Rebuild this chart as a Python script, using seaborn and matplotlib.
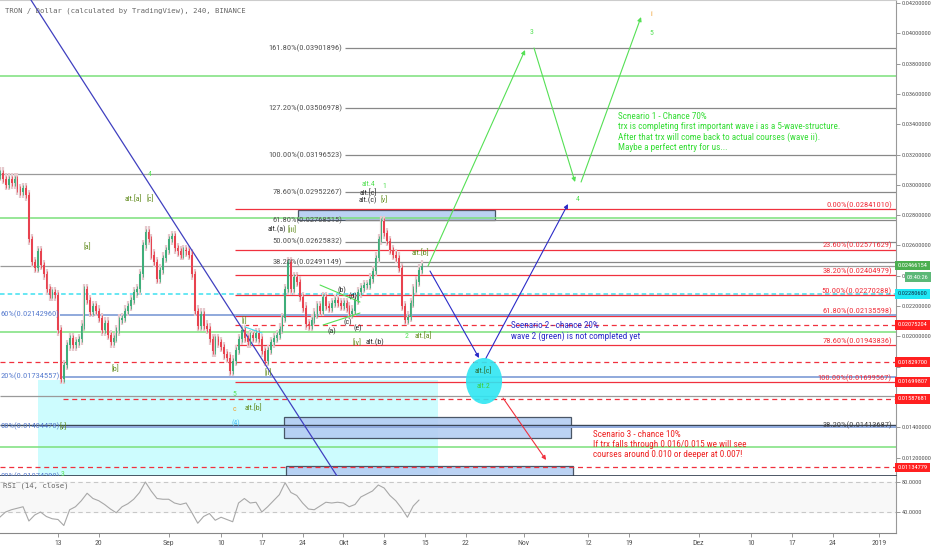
import os
import numpy as np
import pandas as pd
import seaborn as sns
import matplotlib
matplotlib.use('Agg')
import matplotlib.pyplot as plt
from matplotlib.patches import Rectangle, Ellipse
from matplotlib import font_manager
from matplotlib.font_manager import FontProperties

# ---- data (12h closes) ----
bar_start = '2018-08-03 01:00'
closes = [0.0308, 0.0304, 0.0300, 0.0304, 0.0301, 0.0304, 0.0297, 0.0295, 0.0298, 0.0293,
          0.0264, 0.0249, 0.0245, 0.0256, 0.0247, 0.0241, 0.0231, 0.0227, 0.0229, 0.0227,
          0.0204, 0.0172, 0.0181, 0.0194, 0.0199, 0.0194, 0.0196, 0.0198, 0.0207, 0.0231,
          0.0224, 0.0216, 0.0220, 0.0217, 0.0212, 0.0204, 0.0209, 0.0201, 0.0196, 0.0199,
          0.0204, 0.0211, 0.0212, 0.0217, 0.0220, 0.0224, 0.0229, 0.0231, 0.0241, 0.0260,
          0.0269, 0.0264, 0.0254, 0.0249, 0.0238, 0.0244, 0.0252, 0.0257, 0.0264, 0.0266,
          0.0258, 0.0256, 0.0254, 0.0257, 0.0256, 0.0254, 0.0241, 0.0217, 0.0207, 0.0215,
          0.0207, 0.0205, 0.0198, 0.0190, 0.0198, 0.0196, 0.0193, 0.0188, 0.0186, 0.0177,
          0.0184, 0.0191, 0.0198, 0.0204, 0.0199, 0.0196, 0.0201, 0.0199, 0.0202, 0.0198,
          0.0190, 0.0184, 0.0191, 0.0196, 0.0199, 0.0201, 0.0205, 0.0212, 0.0231, 0.0249,
          0.0231, 0.0239, 0.0236, 0.0226, 0.0219, 0.0208, 0.0207, 0.0211, 0.0215, 0.0220,
          0.0217, 0.0226, 0.0220, 0.0219, 0.0222, 0.0224, 0.0222, 0.0220, 0.0222, 0.0219,
          0.0215, 0.0217, 0.0224, 0.0229, 0.0232, 0.0234, 0.0234, 0.0238, 0.0243, 0.0252,
          0.0264, 0.0276, 0.0268, 0.0263, 0.0257, 0.0254, 0.0252, 0.0245, 0.0220, 0.0211,
          0.0213, 0.0222, 0.0231, 0.0236, 0.0244, 0.02466]
first_open = 0.0306

rsi_start = '2018-08-03'
rsi = [33, 40, 43, 45, 47, 28, 36, 40, 34, 31, 30, 22, 43, 47, 55, 65, 58, 55, 50, 44,
       39, 47, 51, 57, 66, 80, 68, 58, 57, 57, 52, 50, 52, 39, 25, 34, 38, 29, 33, 30,
       27, 52, 58, 52, 53, 40, 47, 55, 63, 79, 66, 62, 52, 44, 43, 48, 53, 52, 53, 52,
       47, 50, 60, 64, 68, 76, 72, 62, 55, 45, 33, 48, 56]

tick_dates = ['2018-08-13', '2018-08-20', '2018-09-01', '2018-09-10', '2018-09-17', '2018-09-24',
              '2018-10-01', '2018-10-08', '2018-10-15', '2018-10-22', '2018-11-01', '2018-11-12',
              '2018-11-19', '2018-12-01', '2018-12-10', '2018-12-17', '2018-12-24', '2019-01-01']
tick_labels = ['13', '20', 'Sep', '10', '17', '24', 'Okt', '8', '15', '22', 'Nov', '12', '19',
               'Dez', '10', '17', '24', '2019']

# fib extension (gray), retracement (red), left fib (blue)
fib_ext = [0.03901896, 0.03506978, 0.03196523, 0.02952267, 0.02768515, 0.02625832, 0.02491149]
fib_ext_pct = ['161.80%', '127.20%', '100.00%', '78.60%', '61.80%', '50.00%', '38.20%']
fib_red = [0.02841010, 0.02571629, 0.02404979, 0.02270288, 0.02135598, 0.01943836, 0.01699567]
fib_red_pct = ['0.00%', '23.60%', '38.20%', '50.00%', '61.80%', '78.60%', '100.00%']
fib_blue = [0.02142960, 0.01734557, 0.01404478, 0.01074290]
fib_blue_pct = ['60%', '20%', '00%', '00%']
fib_low = 0.01413687
red_dash = [0.02075204, 0.01829700, 0.01587681, 0.01134779]
green_levels = [0.037182, 0.027809, 0.020284, 0.012693]
gray_levels = [0.030713, 0.016059]
last_price = 0.02466154
cyan_level = 0.022806

base = pd.Timestamp('2018-08-13')
XMIN, XMAX = -9.96, 143.9
YMIN, YMAX = 0.01078, 0.0422


def day(s):
    return (pd.Timestamp(s) - base) / pd.Timedelta('1D')


# look for a narrow sans face, like the chart's Arial Narrow
bad = ['Bold', 'Italic', 'Oblique', 'Light', 'Thin', 'Black', 'Medium', 'Semi', 'Extra']
cands = [f.fname for f in font_manager.fontManager.ttflist
         if ('Narrow' in f.fname or 'Condensed' in f.fname) and not any(b in os.path.basename(f.fname) for b in bad)]
pref = ['LiberationSansNarrow', 'RobotoCondensed', 'Roboto_Condensed', 'NotoSans', 'DejaVuSansCondensed', 'OpenSans']
cands.sort(key=lambda p: next((i for i, s in enumerate(pref) if s in os.path.basename(p)), 99))
if cands:
    NFILE = cands[0]
    k = 1.12 if 'LiberationSansNarrow' in NFILE else 1.0
else:
    NFILE = None
    k = 0.85


def fp(size):
    if NFILE:
        return FontProperties(fname=NFILE, size=size * k)
    return FontProperties(family='Liberation Sans', size=size * k)


sns.set_style('white')
plt.rcParams['font.family'] = ['Liberation Sans', 'DejaVu Sans']

UP, DOWN = '#3fae7a', '#e8424f'
RED, GRN, BLU = '#f0313e', '#55e055', '#2b2bc8'

fig = plt.figure(figsize=(9.32, 5.5), dpi=100)
ax = fig.add_axes([0, 0.13455, 0.96137, 0.86545])
rx = fig.add_axes([0, 0.03091, 0.96137, 0.10364])

# ---- candles ----
t = pd.date_range(bar_start, periods=len(closes), freq='12h')
x = np.asarray((t - base) / pd.Timedelta('1D'))
c = np.array(closes)
o = np.array([first_open] + closes[:-1])
lo, hi = np.minimum(o, c), np.maximum(o, c)
col = np.where(c >= o, UP, DOWN)
ax.vlines(x, lo - 0.00035, hi + 0.00035, colors='#e6c9cd', lw=1.6, zorder=3)
ax.vlines(x, lo - 0.0002, hi + 0.0002, colors=col, lw=0.6, zorder=4)
ax.bar(x, np.maximum(hi - lo, 0.00006), bottom=lo, width=0.3, color=col, lw=0, zorder=5)

# ---- zones ----
ax.add_patch(Rectangle((-3.43, 0.0105), 68.69, 0.017116 - 0.0105, fc='#cdfcfe', ec='none', zorder=1))
for x0, x1, y0, y1 in [(41.22, 75.05, 0.027676, 0.028337), (38.81, 88.10, 0.013287, 0.014673),
                       (39.16, 88.44, 0.0105, 0.011439)]:
    ax.add_patch(Rectangle((x0, y0), x1 - x0, y1 - y0, fc='#b4cdf2', ec='#3a4656', lw=0.9,
                           alpha=0.9, zorder=2))
ax.add_patch(Ellipse((73.16, 0.01705), 6.2, 0.00304, fc='#2fe6f2', ec='none', alpha=0.9, zorder=6))

# ---- horizontal levels ----
lw = 0.9
FIBSZ = 6.1
for p in green_levels:
    ax.hlines(p, XMIN, XMAX, color='#7be07b', lw=1.1, zorder=2)
for p in gray_levels:
    ax.hlines(p, XMIN, XMAX, color='#9a9a9a', lw=lw, zorder=2)
ax.hlines(last_price, XMIN, XMAX, color='#9a9a9a', lw=lw, zorder=2)
ax.hlines(cyan_level, XMIN, XMAX, color='#3fe0f0', lw=1.1, ls=(0, (3, 2)), zorder=2)
ax.hlines(fib_low, XMIN, XMAX, color='#3a4656', lw=1.0, zorder=2)
ax.text(143.2, fib_low, '38.20%(0.01413687)', ha='right', va='center', fontproperties=fp(FIBSZ),
        color='#444444', zorder=7)

for p, s in zip(fib_ext, fib_ext_pct):
    ax.hlines(p, 49.3, XMAX, color='#888888', lw=lw, zorder=2)
    ax.text(48.8, p, f'{s}({p:.8f})', ha='right', va='center', fontproperties=fp(FIBSZ),
            color='#555555', zorder=7)

for p, s in zip(fib_red, fib_red_pct):
    ax.hlines(p, 30.4, XMAX, color=RED, lw=lw, zorder=2)
    ax.text(143.2, p + 0.00002, f'{s}({p:.8f})', ha='right', va='bottom', fontproperties=fp(FIBSZ),
            color=RED, zorder=7)

for p, s in zip(fib_blue, fib_blue_pct):
    ax.hlines(p, 0.34, XMAX, color='#8fa9dc', lw=1.4, zorder=2)
    ax.text(XMIN + 0.1, p, f'{s}({p:.8f})', ha='left', va='center', fontproperties=fp(FIBSZ),
            color='#5b7fd0', zorder=7)

for p, x0 in zip(red_dash, [30.4, XMIN, 0.86, XMIN]):
    ax.hlines(p, x0, XMAX, color=RED, lw=lw, ls=(0, (4, 3)), zorder=2)

# ---- drawings ----
ax.plot([-4.64, 47.91], [0.042198, 0.010779], color='#4040c0', lw=0.9, zorder=3)
for (x0, y0), (x1, y1), cl in [((63.54, 0.02464), (80.20, 0.038898), GRN),
                               ((81.74, 0.03903), (88.79, 0.030185), GRN),
                               ((89.82, 0.030185), (100.12, 0.041076), GRN),
                               ((63.88, 0.02431), (72.30, 0.018568), BLU),
                               ((73.50, 0.018568), (87.58, 0.028733), BLU),
                               ((76.42, 0.015927), (83.81, 0.011835), RED)]:
    ax.annotate('', xy=(x1, y1), xytext=(x0, y0),
                arrowprops=dict(arrowstyle='-|>', color=cl, lw=0.8, mutation_scale=6,
                                shrinkA=0, shrinkB=0), zorder=7)
ax.plot([45.0, 51.86], [0.023386, 0.022264], color=GRN, lw=0.8, zorder=6)
ax.plot([45.51, 51.86], [0.020746, 0.021538], color=GRN, lw=0.8, zorder=6)
ax.plot([32.11, 35.03], [0.020614, 0.020218], color='#40d8e8', lw=0.8, zorder=6)

# ---- wave labels ----
OLV, DRK, ORG = '#5f8a1a', '#2a2a2a', '#f0a030'
waves = [('3', 81.23, 0.040086, GRN), ('i', 101.84, 0.041274, ORG), ('5', 101.84, 0.04002, GRN),
         ('4', 89.30, 0.029063, GRN), ('4', 15.80, 0.030713, GRN),
         ('alt.[a]', 12.88, 0.029129, OLV), ('[c]', 15.80, 0.029129, OLV),
         ('[a]', 4.98, 0.02596, OLV), ('[b]', 9.79, 0.017908, OLV),
         ('alt.4', 53.24, 0.030053, GRN), ('1', 55.98, 0.029921, GRN),
         ('alt.[c]', 53.24, 0.029525, DRK), ('[v]', 55.98, 0.029063, OLV),
         ('alt.(c)', 53.24, 0.028997, DRK), ('alt.(a)', 37.6, 0.027082, DRK),
         ('[iii]', 40.19, 0.027082, OLV), ('alt.[b]', 62.17, 0.025564, OLV),
         ('(b)', 48.77, 0.023056, DRK), ('(d)', 50.66, 0.02266, DRK), ('(c)', 49.80, 0.020944, DRK),
         ('(e)', 51.52, 0.020548, DRK), ('(a)', 47.05, 0.02035, DRK),
         ('[iv]', 51.35, 0.019624, OLV), ('alt.(b)', 54.4, 0.019624, DRK),
         ('2', 59.93, 0.02002, GRN), ('alt.[a]', 62.7, 0.020086, OLV),
         ('[i]', 31.94, 0.021076, OLV), ('[ii]', 36.06, 0.017644, OLV),
         ('5', 30.23, 0.016191, GRN), ('c', 30.23, 0.015201, ORG), ('alt.[b]', 33.5, 0.015333, OLV),
         ('(4)', 30.57, 0.014277, '#4fc3f7'), ('[v]', 0.95, 0.01406, OLV), ('3', 0.75, 0.01088, GRN),
         ('alt.[c]', 72.99, 0.017776, '#2e6b2e'), ('alt.2', 72.99, 0.01672, '#3ccf3c')]
for s, xx, yy, cl in waves:
    ax.text(xx, yy, s, ha='center', va='center', fontproperties=fp(5.6), color=cl, zorder=8)

# ---- scenario notes ----
note = dict(ha='left', va='top', linespacing=1.15, zorder=8)
NOTESZ = 6.6
ax.text(96.17, 0.034805, 'Scneario 1 - Chance 70%\n'
        'trx is completing first important wave i as a 5-wave-structure.\n'
        'After that trx will come back to actual courses (wave ii).\n'
        'Maybe a perfect entry for us...', color='#33dd33', fontproperties=fp(NOTESZ), **note)
ax.text(77.8, 0.02101, 'Scenario 2 - chance 20%\nwave 2 (green) is not completed yet',
        color=BLU, fontproperties=fp(NOTESZ), **note)
ax.text(91.88, 0.013815, 'Scenario 3 - chance 10%\n'
        'If trx falls through 0.016/0.015 we will see\n'
        'courses around 0.010 or deeper at 0.007!', color='#ee2222', fontproperties=fp(NOTESZ), **note)

ax.text(0.006, 0.985, 'TRON / Dollar (calculated by TradingView), 240, BINANCE', transform=ax.transAxes,
        ha='left', va='top', fontsize=5.2, color='#666666', family='DejaVu Sans Mono', zorder=8)

# ---- axes styling ----
TICKSZ = 4.6
ax.set_xlim(XMIN, XMAX)
ax.set_ylim(YMIN, YMAX)
ax.set_xticks([])
ax.yaxis.tick_right()
yt = np.arange(0.012, 0.0421, 0.002)
ax.set_yticks(yt)
# 0.016 and 0.018 sit under the red price tags
ax.set_yticklabels(['' if round(v, 3) in (0.016, 0.018) else f'{v:.8f}' for v in yt],
                   fontproperties=fp(TICKSZ))
ax.tick_params(axis='y', right=True, length=3, width=0.6, color='#888888', pad=1, labelcolor='#555555')
ax.spines['left'].set_visible(False)
ax.spines['top'].set_color('#cccccc')
ax.spines['right'].set_color('#999999')
ax.spines['bottom'].set_color('#2f3b4b')
ax.spines['bottom'].set_linewidth(1.2)

# right side price tags
tags = [(last_price, '0.02466154', '#4caf50', 'white', 1.2),
        (0.023914, '03:40:26', '#5cb878', 'white', 8.0),
        (cyan_level, '0.02280600', '#20e8f5', '#10304a', 1.2),
        (0.02075204, '0.02075204', '#ff2020', 'white', 1.2),
        (0.01829700, '0.01829700', '#ff2020', 'white', 1.2),
        (0.01699807, '0.01699807', '#ff2020', 'white', 1.2),
        (0.01587681, '0.01587681', '#ff2020', 'white', 1.2),
        (0.01134779, '0.01134779', '#ff2020', 'white', 1.2)]
for p, s, fc, tc, off in tags:
    ax.annotate(s, xy=(1.0, p), xycoords=('axes fraction', 'data'), xytext=(off, 0),
                textcoords='offset points', ha='left', va='center', fontproperties=fp(TICKSZ), color=tc,
                bbox=dict(boxstyle='square,pad=0.35', fc=fc, ec='none'), annotation_clip=False,
                zorder=10)

# ---- RSI panel ----
rt = pd.date_range(rsi_start, periods=len(rsi), freq='D')
rd = pd.DataFrame({'d': np.asarray((rt - base) / pd.Timedelta('1D')), 'rsi': rsi})
rx.axhspan(40, 80, color='#f8f8f8', zorder=0)
for lv in (40, 80):
    rx.axhline(lv, color='#c8c8c8', lw=0.8, ls=(0, (4, 3)), zorder=1)
sns.lineplot(data=rd, x='d', y='rsi', ax=rx, color='#a8a8a8', lw=0.8, zorder=3)
rx.text(0.003, 0.83, 'RSI (14, close)', transform=rx.transAxes, ha='left', va='center',
        fontsize=5.2, color='#666666', family='DejaVu Sans Mono')
rx.set_xlim(XMIN, XMAX)
rx.set_ylim(12, 88)
rx.set_xlabel('')
rx.set_ylabel('')
rx.yaxis.tick_right()
rx.set_yticks([40, 80])
rx.set_yticklabels(['40.0000', '80.0000'], fontproperties=fp(TICKSZ))
rx.set_xticks([day(s) for s in tick_dates])
rx.set_xticklabels(tick_labels, fontproperties=fp(5.6))
rx.tick_params(axis='y', right=True, length=3, width=0.6, color='#888888', pad=1, labelcolor='#555555')
rx.tick_params(axis='x', bottom=True, length=3, width=0.6, color='#888888', pad=2, labelcolor='#555555')
rx.spines['left'].set_visible(False)
rx.spines['top'].set_visible(False)
rx.spines['right'].set_color('#999999')
rx.spines['bottom'].set_color('#888888')

fig.savefig('out.png', dpi=100)
